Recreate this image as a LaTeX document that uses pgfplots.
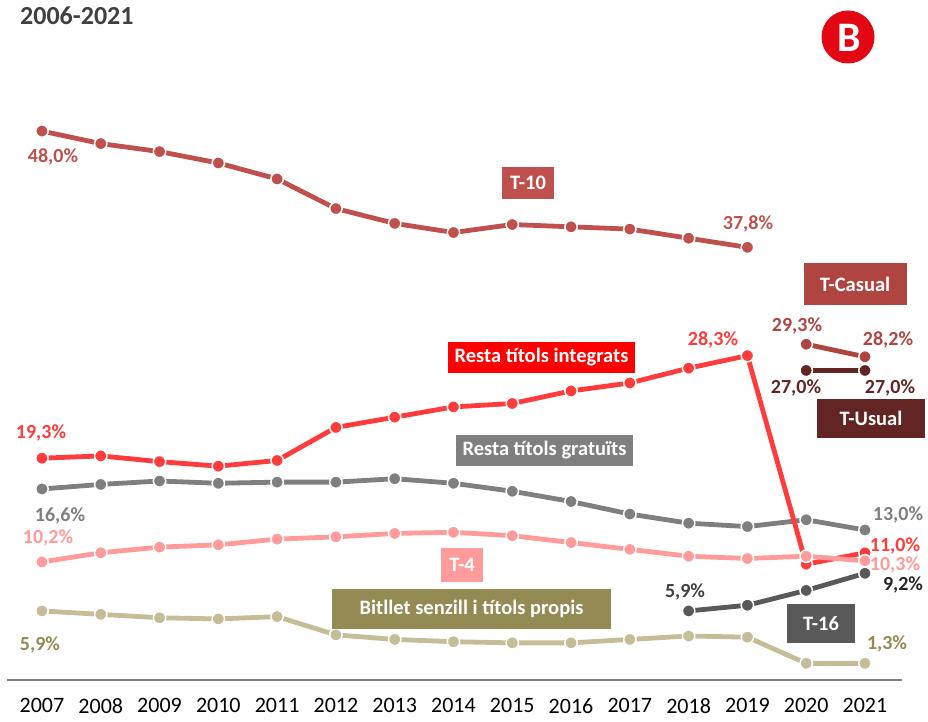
\documentclass[border=0pt]{standalone}
\usepackage{pgfplots}
\pgfplotsset{compat=1.18}
\usepackage{fontspec}
\setmainfont{Carlito}
\definecolor{cTten}{HTML}{C0504D}
\definecolor{cInt}{HTML}{FF3B3B}
\definecolor{cIntBox}{HTML}{FF0000}
\definecolor{cGra}{HTML}{7F7F7F}
\definecolor{cTfour}{HTML}{FF9B9B}
\definecolor{cBit}{HTML}{C4BD97}
\definecolor{cBitBox}{HTML}{948A54}
\definecolor{cTsix}{HTML}{595959}
\definecolor{cCas}{HTML}{AF4441}
\definecolor{cUsu}{HTML}{632523}
\definecolor{cLogo}{HTML}{E30613}
\definecolor{cTitle}{HTML}{404040}
\pgfplotsset{
  myline/.style={draw=#1, line width=4.8pt, mark=*, mark size=6.2pt,
    mark options={solid, fill=#1, draw=white, line width=1.5pt}},
}
\newcommand{\lab}{\fontsize{20}{20}\selectfont\bfseries}
\newcommand{\boxf}{\fontsize{20.5}{20.5}\selectfont\bfseries}
\begin{document}
\begin{tikzpicture}
\useasboundingbox (0pt,0pt) rectangle (928pt,-722pt);
\begin{axis}[
  at={(7pt,-680pt)}, anchor=south west,
  scale only axis, width=895pt, height=680pt,
  xmin=2006.405, xmax=2021.63, ymin=-0.16, ymax=59.5,
  axis x line=bottom, axis y line=none,
  x axis line style={-, draw=cGra, line width=2pt},
  xtick={2007,2008,2009,2010,2011,2012,2013,2014,2015,2016,2017,2018,2019,2020,2021},
  xticklabels={2007,2008,2009,2010,2011,2012,2013,2014,2015,2016,2017,2018,2019,2020,2021},
  major tick length=0pt,
  ytick=\empty,
  xticklabel style={font=\fontsize{22}{22}\selectfont, text=black, yshift=-15pt},
  clip=false,
]
\addplot[myline=cBit] coordinates {(2007,5.9)(2008,5.6)(2009,5.3)(2010,5.2)(2011,5.4)(2012,3.8)(2013,3.4)(2014,3.2)(2015,3.1)(2016,3.1)(2017,3.4)(2018,3.7)(2019,3.6)(2020,1.3)(2021,1.3)};
\addplot[myline=cTsix] coordinates {(2018,5.9)(2019,6.4)(2020,7.7)(2021,9.2)};
\addplot[myline=cGra] coordinates {(2007,16.6)(2008,17.0)(2009,17.3)(2010,17.1)(2011,17.2)(2012,17.2)(2013,17.5)(2014,17.1)(2015,16.4)(2016,15.5)(2017,14.4)(2018,13.6)(2019,13.3)(2020,13.9)(2021,13.0)};
\addplot[myline=cInt] coordinates {(2007,19.3)(2008,19.5)(2009,19.0)(2010,18.6)(2011,19.1)(2012,22.0)(2013,22.9)(2014,23.8)(2015,24.1)(2016,25.2)(2017,25.9)(2018,27.2)(2019,28.3)(2020,10.0)(2021,11.0)};
\addplot[myline=cTfour] coordinates {(2007,10.2)(2008,11.0)(2009,11.5)(2010,11.7)(2011,12.2)(2012,12.4)(2013,12.7)(2014,12.8)(2015,12.5)(2016,11.9)(2017,11.3)(2018,10.7)(2019,10.5)(2020,10.7)(2021,10.3)};
\addplot[myline=cTten] coordinates {(2007,48.0)(2008,46.9)(2009,46.2)(2010,45.2)(2011,43.8)(2012,41.2)(2013,39.9)(2014,39.1)(2015,39.8)(2016,39.6)(2017,39.4)(2018,38.6)(2019,37.8)};
\addplot[myline=cCas] coordinates {(2020,29.3)(2021,28.2)};
\addplot[myline=cUsu] coordinates {(2020,27.0)(2021,27.0)};
\end{axis}
% title and logo
\node[anchor=west, text=cTitle, font=\fontsize{26}{26}\selectfont\bfseries, inner sep=0pt] at (20pt,-16pt) {2006-2021};
\fill[cLogo] (848pt,-37pt) circle (26.5pt);
\node[text=white, font=\fontsize{42}{42}\selectfont\bfseries, inner sep=0pt] at (849pt,-38pt) {B};
% data labels
\node[text=cTten, font=\lab] at (53pt,-157pt) {48,0\%};
\node[text=cTten, font=\lab] at (748pt,-224pt) {37,8\%};
\node[text=cInt, font=\lab] at (41pt,-433pt) {19,3\%};
\node[text=cInt, font=\lab] at (713pt,-340pt) {28,3\%};
\node[text=cGra, font=\lab] at (60pt,-516pt) {16,6\%};
\node[text=cTfour, font=\lab] at (48pt,-538pt) {10,2\%};
\node[text=cBitBox, font=\lab] at (40pt,-645pt) {5,9\%};
\node[text=cCas, font=\lab] at (797pt,-326pt) {29,3\%};
\node[text=cCas, font=\lab] at (888pt,-340pt) {28,2\%};
\node[text=cUsu, font=\lab] at (796pt,-388pt) {27,0\%};
\node[text=cUsu, font=\lab] at (890pt,-388pt) {27,0\%};
\node[text=cGra, font=\lab] at (898pt,-515pt) {13,0\%};
\node[text=cInt, font=\lab] at (895pt,-546pt) {11,0\%};
\node[text=cTfour, font=\lab] at (895pt,-565pt) {10,3\%};
\node[text=black!85, font=\lab] at (903pt,-585pt) {9,2\%};
\node[text=black!75, font=\lab] at (685pt,-592pt) {5,9\%};
\node[text=cBitBox, font=\lab] at (887pt,-644pt) {1,3\%};
% series boxes
\node[fill=cTten, text=white, font=\boxf, minimum width=52pt, minimum height=31pt, inner sep=0pt] at (528pt,-183pt) {T-10};
\node[fill=cCas, text=white, font=\boxf, minimum width=103pt, minimum height=42pt, inner sep=0pt] at (855pt,-284pt) {T-Casual};
\node[fill=cUsu, text=white, font=\boxf, minimum width=108pt, minimum height=39pt, inner sep=0pt] at (871pt,-418pt) {T-Usual};
\node[fill=cIntBox, text=white, font=\boxf, minimum width=187pt, minimum height=31pt, inner sep=0pt] at (541.5pt,-357.5pt) {Resta títols integrats};
\node[fill=cGra, text=white, font=\boxf, minimum width=177pt, minimum height=31pt, inner sep=0pt] at (544.5pt,-450.5pt) {Resta títols gratuïts};
\node[fill=cTfour, text=white, font=\boxf, minimum width=42pt, minimum height=34pt, inner sep=0pt] at (462pt,-565pt) {T-4};
\node[fill=cBitBox, text=white, font=\boxf, minimum width=279pt, minimum height=40pt, inner sep=0pt] at (471.5pt,-609pt) {Bitllet senzill i títols propis};
\node[fill=cTsix, text=white, font=\boxf, minimum width=68pt, minimum height=39pt, inner sep=0pt] at (821pt,-623.5pt) {T-16};
\end{tikzpicture}
\end{document}
